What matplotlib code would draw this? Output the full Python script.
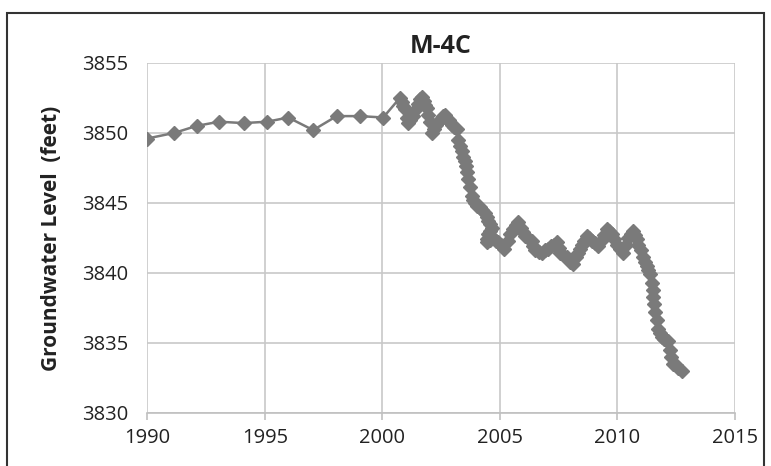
import matplotlib.pyplot as plt
from matplotlib.patches import Rectangle

plt.rcParams["font.family"] = ["Open Sans", "DejaVu Sans"]

# annual readings 1990-2000, then frequent readings from late 2000
years = [1990.0, 1991.15, 1992.1, 1993.06, 1994.1, 1995.1, 1996.0, 1997.06,
         1998.06, 1999.05, 2000.04,
         2000.75, 2000.83, 2000.9, 2000.97, 2001.04, 2001.1, 2001.2, 2001.32,
         2001.42, 2001.52, 2001.6, 2001.68, 2001.76, 2001.82, 2001.89, 2001.96,
         2002.03, 2002.1, 2002.2, 2002.3, 2002.38, 2002.5, 2002.6, 2002.67,
         2002.75, 2002.82, 2002.88, 2002.96, 2003.05, 2003.17, 2003.23, 2003.3,
         2003.38, 2003.45, 2003.52, 2003.55, 2003.6, 2003.66, 2003.73, 2003.8,
         2003.87, 2003.94, 2004.05, 2004.16, 2004.26, 2004.37, 2004.45, 2004.51,
         2004.58, 2004.66, 2004.58, 2004.51, 2004.47, 2004.44, 2004.58, 2004.72,
         2004.83, 2004.94, 2005.07, 2005.2, 2005.35, 2005.45, 2005.55, 2005.67,
         2005.79, 2005.9, 2006.0, 2006.07, 2006.2, 2006.36, 2006.43, 2006.5,
         2006.65, 2006.78, 2006.92, 2007.06, 2007.2, 2007.32, 2007.42, 2007.5,
         2007.56, 2007.7, 2007.85, 2008.0, 2008.13, 2008.25, 2008.33, 2008.41,
         2008.5, 2008.6, 2008.7, 2008.8, 2008.91, 2009.05, 2009.19, 2009.3,
         2009.42, 2009.55, 2009.65, 2009.76, 2009.87, 2009.97, 2010.1, 2010.26,
         2010.36, 2010.47, 2010.58, 2010.68, 2010.75, 2010.82, 2010.9, 2011.0,
         2011.1, 2011.18, 2011.25, 2011.32, 2011.4, 2011.46, 2011.5, 2011.53,
         2011.56, 2011.6, 2011.67, 2011.75, 2011.82, 2011.89, 2012.0, 2012.08,
         2012.17, 2012.25, 2012.3, 2012.38, 2012.5, 2012.6, 2012.74]
level = [3849.6, 3850.0, 3850.5, 3850.8, 3850.7, 3850.8, 3851.1, 3850.2,
         3851.2, 3851.2, 3851.1,
         3852.5, 3852.2, 3851.9, 3851.7, 3851.1, 3850.7, 3850.9, 3851.2,
         3851.7, 3852.1, 3852.4, 3852.6, 3852.3, 3852.0, 3851.8, 3851.3,
         3850.8, 3850.0, 3850.3, 3850.6, 3850.8, 3851.0, 3851.2, 3851.3,
         3851.0, 3850.9, 3850.8, 3850.6, 3850.4, 3850.25, 3849.5, 3849.1,
         3848.7, 3848.3, 3848.0, 3847.6, 3847.2, 3846.7, 3846.1, 3845.5,
         3845.2, 3845.0, 3844.8, 3844.7, 3844.5, 3844.3, 3844.0, 3843.7,
         3843.5, 3843.2, 3843.0, 3842.75, 3842.4, 3842.2, 3842.35, 3842.5,
         3842.3, 3842.2, 3842.0, 3841.7, 3842.3, 3842.8, 3843.1, 3843.4,
         3843.6, 3843.2, 3842.9, 3842.6, 3842.5, 3842.3, 3841.9, 3841.6,
         3841.5, 3841.45, 3841.6, 3841.7, 3841.9, 3842.0, 3842.2, 3841.8,
         3841.45, 3841.3, 3841.1, 3840.8, 3840.6, 3841.1, 3841.4, 3841.7,
         3842.0, 3842.3, 3842.6, 3842.5, 3842.3, 3842.1, 3841.9, 3842.3,
         3842.7, 3843.1, 3843.0, 3842.75, 3842.4, 3842.0, 3841.7, 3841.45,
         3842.0, 3842.5, 3842.8, 3843.0, 3842.7, 3842.4, 3842.0, 3841.6,
         3841.1, 3840.8, 3840.5, 3840.2, 3839.9, 3839.3, 3838.8, 3838.3,
         3837.8, 3837.2, 3836.6, 3836.0, 3835.7, 3835.4, 3835.3, 3835.2,
         3835.1, 3834.5, 3834.0, 3833.5, 3833.4, 3833.2, 3833.0]

xticks = [1990, 1995, 2000, 2005, 2010, 2015]
yticks = [3830, 3835, 3840, 3845, 3850, 3855]

fig = plt.figure(figsize=(7.71, 4.66), dpi=100)
ax = fig.add_axes([0.191, 0.114, 0.762, 0.751])

ax.plot(years, level, color="#7a7a7a", linewidth=1.8, marker="D",
        markersize=7, markerfacecolor="#7a7a7a", markeredgecolor="#7a7a7a")

ax.set_xlim(1990, 2015)
ax.set_ylim(3830, 3855)
ax.set_xticks(xticks)
ax.set_yticks(yticks)
ax.grid(True, color="#c8c8c8", linewidth=1.2)
ax.set_axisbelow(True)
for s in ["top", "right", "left"]:
    ax.spines[s].set_visible(False)
ax.spines["bottom"].set_color("#c0c0c0")
ax.spines["bottom"].set_linewidth(1.2)
ax.tick_params(axis="x", colors="#c0c0c0", labelcolor="#222222", length=5,
               width=1.2, labelsize=14.5, pad=6)
ax.tick_params(axis="y", length=0, labelcolor="#222222", labelsize=14.5, pad=14)

ax.set_title("M-4C", fontsize=18, fontweight="bold", color="#222222", pad=7)
ax.set_ylabel("Groundwater Level  (feet)", fontsize=15, fontweight="bold",
              color="#222222", labelpad=14)

# chart frame, cut off at the bottom as in the source image
fig.patches.append(Rectangle((7 / 771, -0.1), 757 / 771, 1.1 - 13 / 466,
                             transform=fig.transFigure, fill=False,
                             edgecolor="#333333", linewidth=1.5))

fig.savefig("out.png", dpi=100)
